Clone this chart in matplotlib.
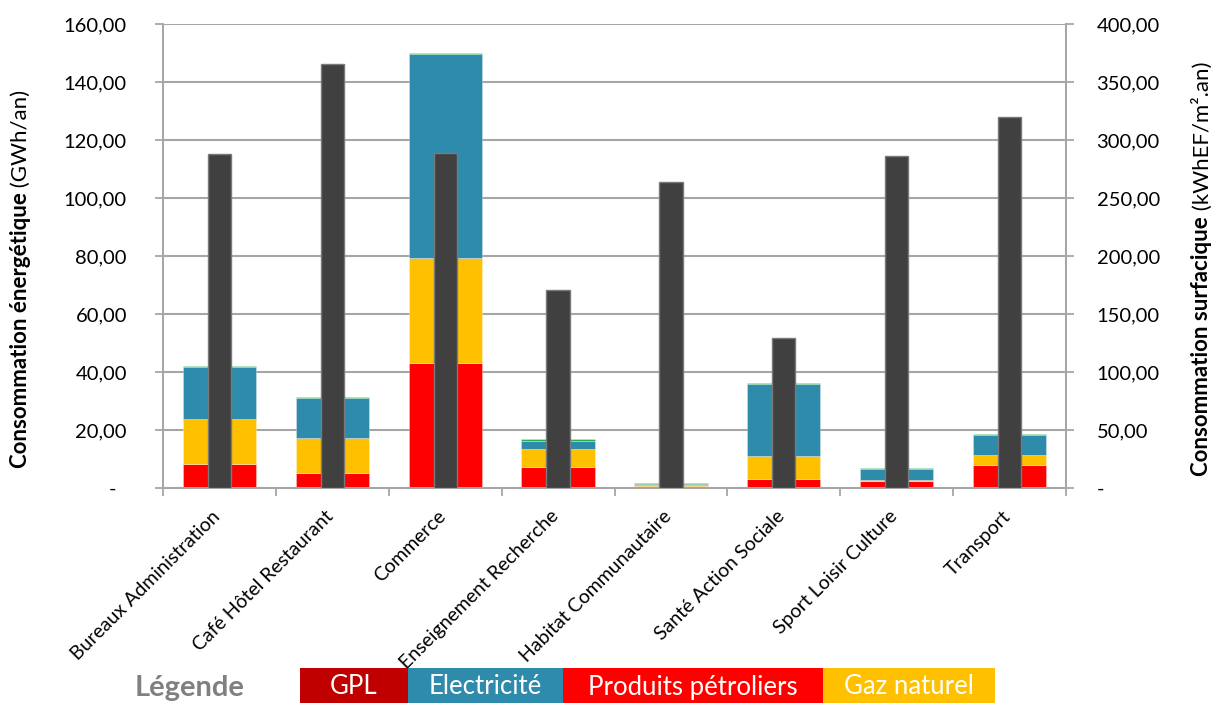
import matplotlib
matplotlib.use("Agg")
import matplotlib.pyplot as plt
import matplotlib.transforms as mtransforms
from matplotlib.patches import Rectangle
import numpy as np

plt.rcParams["font.family"] = ["Lato", "DejaVu Sans"]

# --- data -------------------------------------------------------------
categories = ["Bureaux Administration", "Café Hôtel Restaurant", "Commerce",
              "Enseignement Recherche", "Habitat Communautaire",
              "Santé Action Sociale", "Sport Loisir Culture", "Transport"]

# energy consumption by source (GWh/an)
produits_petroliers = [8.3, 5.3, 43.2, 7.3, 0.6, 3.1, 2.3, 7.9]
gpl = [0.0, 0.0, 0.0, 0.0, 0.0, 0.0, 0.0, 0.0]
gaz_naturel = [15.4, 12.0, 36.1, 6.1, 0.3, 7.9, 0.3, 3.4]
electricite = [17.9, 13.6, 70.2, 2.9, 0.5, 24.7, 4.0, 7.1]
autres = [0.5, 0.6, 0.6, 0.7, 0.3, 0.4, 0.2, 0.3]

# energy consumption per floor area (kWhEF/m².an)
conso_surfacique = [287.6, 365.5, 288.5, 170.7, 264.1, 129.0, 286.5, 319.8]

left_ticks = [0, 20, 40, 60, 80, 100, 120, 140, 160]
right_ticks = [0, 50, 100, 150, 200, 250, 300, 350, 400]

legend_labels = ["GPL", "Electricité", "Produits pétroliers", "Gaz naturel"]

# --- style ------------------------------------------------------------
c_pp = "#FF0000"
c_gpl = "#C00000"
c_gaz = "#FFC000"
c_elec = "#2E8BAB"
c_autres = "#20B050"
c_dark = "#404040"
grid_c = "#A6A6A6"

W, H = 1213, 703
fig = plt.figure(figsize=(W / 100, H / 100), dpi=100)
L, R, T, B = 163, 1066, 24, 488
ax = fig.add_axes([L / W, 1 - B / H, (R - L) / W, (B - T) / H])
ax2 = ax.twinx()

x = np.arange(len(categories))
w_stack = 0.65
w_dark = 0.207

series = [(produits_petroliers, c_pp), (gpl, c_gpl), (gaz_naturel, c_gaz),
          (electricite, c_elec), (autres, c_autres)]
bottom = np.zeros(len(categories))
for vals, col in series:
    vals = np.asarray(vals, dtype=float)
    ax.bar(x, vals, w_stack, bottom=bottom, color=col,
           edgecolor=(1, 1, 1, 0.35), linewidth=0.6, zorder=2)
    bottom += vals

ax2.bar(x, conso_surfacique, w_dark, color=c_dark, edgecolor="#7A7A7A",
        linewidth=1.0, zorder=3)

# axes limits and ticks
ax.set_xlim(-0.5, len(categories) - 0.5)
ax.set_ylim(0, 160)
ax2.set_ylim(0, 400)


def fmt(v):
    return "-" if v == 0 else f"{v:,.2f}".replace(",", " ").replace(".", ",")


ax.set_yticks(left_ticks)
ax.set_yticklabels([fmt(v) + ("  " if v == 0 else "") for v in left_ticks])
ax2.set_yticks(right_ticks)
ax2.set_yticklabels([fmt(v) for v in right_ticks])

ax.set_axisbelow(True)
ax.yaxis.grid(True, color=grid_c, linewidth=1.5)
ax.xaxis.grid(False)

# category boundaries as ticks, names on centred minor ticks
ax.set_xticks(np.arange(len(categories) + 1) - 0.5)
ax.set_xticklabels([])
ax.set_xticks(x, minor=True)
ax.set_xticklabels(categories, minor=True, rotation=45, ha="right",
                   va="top", fontsize=14)
ax.tick_params(axis="x", which="minor", length=0, pad=14)
ax.tick_params(axis="x", which="major", length=6, color=grid_c, width=1.3)
offset = mtransforms.ScaledTranslation(4 / 100, 0, fig.dpi_scale_trans)
for lab in ax.get_xticklabels(minor=True):
    lab.set_transform(lab.get_transform() + offset)

ax.tick_params(axis="y", length=6, color=grid_c, width=1.3, labelsize=14.5,
               pad=20)
ax2.tick_params(axis="y", length=6, color=grid_c, width=1.3, labelsize=14.5,
                pad=16)

for a in (ax, ax2):
    a.spines["top"].set_visible(False)
    for s in ("left", "right", "bottom"):
        a.spines[s].set_color(grid_c)
        a.spines[s].set_linewidth(1.3)

# --- axis titles with bold and regular parts --------------------------
fig.canvas.draw()
renderer = fig.canvas.get_renderer()


def two_part_label(xpix, ypix_center, bold_txt, reg_txt, size):
    tb = fig.text(0, 0, bold_txt, rotation=90, fontsize=size,
                  fontweight="bold", ha="center", va="top")
    tr = fig.text(0, 0, reg_txt, rotation=90, fontsize=size,
                  ha="center", va="bottom")
    hb = tb.get_window_extent(renderer).height
    hr = tr.get_window_extent(renderer).height
    total = hb + hr
    split = (H - ypix_center) - total / 2 + hb  # from bottom, in pixels
    tb.set_position((xpix / W, split / H))
    tr.set_position((xpix / W, split / H))


two_part_label(21, 279, "Consommation énergétique", " (GWh/an)", 16)
two_part_label(1202, 269, "Consommation surfacique", " (kWhEF/m².an)", 16)

# --- legend strip -----------------------------------------------------
fig.text(135 / W, 1 - 688 / H, "Légende", color="#808080", fontsize=21,
         fontweight="bold", ha="left", va="center")
box_edges = [300, 408, 563, 823, 995]
box_cols = [c_gpl, c_elec, c_pp, c_gaz]
for i, (lab, col) in enumerate(zip(legend_labels, box_cols)):
    x0, x1 = box_edges[i], box_edges[i + 1]
    fig.patches.append(Rectangle((x0 / W, 0), (x1 - x0) / W, 35 / H,
                                 transform=fig.transFigure, facecolor=col,
                                 edgecolor="none", zorder=1))
    fig.text((x0 + x1) / 2 / W, 1 - 687 / H, lab, color="white",
             fontsize=18.5, ha="center", va="center", zorder=2)

fig.savefig("out.png", dpi=100)
